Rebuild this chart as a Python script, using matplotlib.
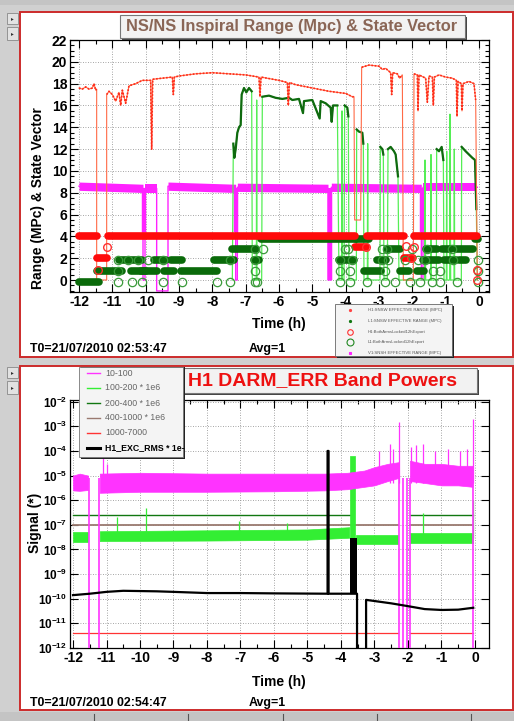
import matplotlib
matplotlib.use("Agg")
import matplotlib.pyplot as plt
import matplotlib.transforms as mtransforms
import numpy as np
from matplotlib.patches import Rectangle
from matplotlib.lines import Line2D
from matplotlib.ticker import MultipleLocator, FixedLocator, LogLocator, NullFormatter

plt.rcParams['font.family'] = ['Liberation Sans', 'DejaVu Sans']
plt.rcParams['mathtext.fontset'] = 'custom'
plt.rcParams['mathtext.bf'] = 'Liberation Sans:bold'
plt.rcParams['mathtext.rm'] = 'Liberation Sans'
plt.rcParams['axes.unicode_minus'] = False

W, H = 514, 721

# ---------------- top panel data: NS/NS range and state vector ----------------
h1_t = [-12.0, -11.9, -11.8, -11.7, -11.6, -11.55, -11.5, -11.47, -11.47, -11.17, -11.17, -11.1,
        -11.0, -10.9, -10.8, -10.75, -10.7, -10.6, -10.5, -10.3, -10.1, -9.85, -9.82, -9.79,
        -9.5, -9.2, -9.17, -9.14, -9.0, -8.5, -8.0, -7.5, -7.0, -6.6, -6.57, -6.54, -6.0,
        -5.75, -5.72, -5.69, -5.5, -5.0, -4.5, -4.0, -3.8, -3.75, -3.73, -3.55, -3.52, -3.3,
        -3.0, -2.9, -2.8, -2.65, -2.62, -2.59, -2.45, -2.38, -2.3, -2.27, -1.97, -1.95, -1.85,
        -1.83, -1.8, -1.6, -1.55, -1.5, -1.4, -1.37, -1.34, -1.2, -1.0, -0.8, -0.68, -0.66,
        -0.63, -0.53, -0.51, -0.48, -0.3, -0.15, -0.1, -0.05]
h1_v = [17.6, 17.5, 17.7, 17.5, 17.6, 18.0, 17.4, 17.5, 0.0, 0.0, 17.0, 17.3,
        17.0, 16.4, 17.2, 16.0, 17.4, 16.2, 17.8, 18.0, 18.3, 18.3, 12.0, 18.4,
        18.5, 18.6, 17.0, 18.6, 18.7, 18.9, 19.0, 18.9, 18.8, 18.6, 16.8, 18.6, 18.3,
        18.1, 16.0, 18.1, 17.9, 17.6, 17.3, 17.1, 16.8, 16.8, 5.5, 5.5, 19.5, 19.7,
        19.6, 19.3, 19.4, 19.0, 17.0, 19.0, 18.9, 18.5, 18.8, 0.0, 0.0, 18.9, 18.8,
        15.5, 18.8, 18.5, 16.3, 18.7, 18.6, 16.0, 18.6, 18.8, 18.6, 18.5, 18.3, 15.0,
        18.2, 18.0, 15.5, 18.0, 18.2, 18.0, 16.5, 0.0]

l1_t = [-7.4, -7.37, -7.34, -7.3, -7.25, -7.2, -7.15, -7.12, -7.05, -6.98, -6.9, -6.82, -6.8,
        -6.68, -6.67, -6.66, -6.52, -6.5, -6.3, -6.1, -5.9, -5.7, -5.6, -5.4, -5.28, -5.25,
        -5.0, -4.78, -4.75, -4.6, -4.45, -4.42, -4.38, -4.25, -4.2, -4.12, -4.11, -4.1, -4.05,
        -4.03, -3.95, -3.92, -3.9, -3.68, -3.67, -3.6, -3.5, -3.47, -3.45, -3.35, -3.34, -3.33,
        -2.97, -2.96, -2.9, -2.87, -2.85, -2.75, -2.73, -2.65, -2.55, -2.5, -2.43, -2.4,
        -1.63, -1.62, -1.6, -1.45, -1.44, -1.43, -1.28, -1.27, -1.2, -1.12, -1.07, -1.05,
        -0.98, -0.97, -0.96, -0.88, -0.87, -0.85, -0.75, -0.74, -0.73, -0.53, -0.52, -0.4,
        -0.3, -0.2, -0.12, -0.08, -0.05]
l1_v = [0.0, 12.5, 11.2, 12.0, 13.5, 14.0, 14.2, 17.0, 17.6, 17.2, 17.6, 17.3, 0.0,
        0.0, 16.5, 0.0, 0.0, 16.8, 16.9, 16.7, 16.6, 16.7, 16.5, 16.6, 15.3, 16.4,
        16.5, 14.8, 16.4, 16.2, 15.8, 14.5, 16.0, 16.0, 0.0, 0.0, 15.5, 0.0, 0.0,
        16.0, 15.8, 15.0, 0.0, 0.0, 13.8, 13.6, 13.5, 12.5, 0.0, 0.0, 12.5, 0.0,
        0.0, 12.2, 12.0, 11.5, 0.0, 0.0, 12.0, 12.2, 11.8, 11.5, 9.5, 0.0,
        0.0, 11.0, 0.0, 0.0, 11.5, 0.0, 0.0, 12.0, 11.8, 12.2, 11.0, 0.0,
        0.0, 11.8, 0.0, 0.0, 15.2, 0.0, 0.0, 12.0, 0.0, 0.0, 12.2, 11.8,
        11.5, 11.2, 11.0, 6.5, 0.0]

v1_t = [-12.0, -10.08, -10.08, -10.02, -10.02, -9.67, -9.67, -9.33, -9.33, -7.3, -7.3, -7.25,
        -7.25, -4.53, -4.53, -4.43, -4.43, -1.73, -1.73, -1.68, -1.68, -0.05]
v1_v = [8.6, 8.4, 0.0, 0.0, 8.4, 8.4, -1.0, -1.0, 8.6, 8.4, 0.0, 0.0,
        8.5, 8.4, 0.0, 0.0, 8.5, 8.4, 0.0, 0.0, 8.5, 8.5]
v1_dip_t = [-10.05, -7.28, -4.48, -1.71]
v1_dip_lo = [4.4, 4.4, 0.0, 4.4]

h1_state_t0 = [-12.0, -11.47, -11.12, -3.72, -3.35, -2.25, -1.95]
h1_state_t1 = [-11.47, -11.17, -3.72, -3.4, -2.25, -1.97, -0.05]
h1_state_v = [4, 2, 4, 3, 4, 2, 4]

l1_state_t0 = [-12.0, -11.45, -10.8, -10.45, -10.15, -9.75, -9.45, -9.25, -8.95, -7.95, -7.4,
               -6.75, -6.55, -4.2, -3.7, -3.45, -3.05, -2.77, -2.37, -1.85, -1.67, -1.58,
               -1.1, -1.05, -0.68, -0.6, -0.12]
l1_state_t1 = [-11.4, -10.7, -10.1, -10.0, -9.65, -9.4, -9.15, -8.9, -7.85, -7.35, -6.7,
               -6.6, -3.7, -3.75, -3.3, -2.95, -2.8, -2.37, -2.1, -1.65, -1.2, -1.27,
               -0.85, -0.7, -0.17, -0.4, -0.03]
l1_state_v = [-0.2, 0.8, 1.8, 0.8, 0.8, 1.8, 0.8, 1.8, 0.8, 1.8, 2.8,
              1.8, 3.8, 1.8, 3.8, 0.8, 1.8, 2.8, 0.8, 0.8, 1.8, 2.8,
              2.8, 1.8, 2.8, 1.8, 3.8]

h1_lock_t = [-11.43, -11.15, -3.4, -2.2, -2.05, -1.95, -0.05, -0.05]
h1_lock_v = [0.9, 3.0, 3.0, 3.1, 2.0, 3.0, 0.9, 0.0]

l1_lock_t = [-10.82, -10.42, -10.12, -9.47, -8.92, -7.87, -7.47, -6.72, -6.67, -4.17, -3.87,
             -3.37, -2.82, -2.52, -2.07, -1.77, -1.42, -1.17, -0.67, -0.02,
             -4.17, -3.87, -2.82, -1.37, -1.17, -0.02, -10.82, -6.72,
             -10.82, -10.52, -10.22, -9.92, -9.47, -7.47, -6.72, -4.17, -3.82, -2.92, -2.72,
             -2.22, -1.82, -1.62, -0.77, -0.02,
             -6.72, -6.47, -4.02, -3.92, -2.92, -2.77, -2.02, -1.57, -0.82]
l1_lock_v = [-0.2] * 20 + [0.8] * 8 + [1.8] * 16 + [2.8] * 9

top_legend = ["H1:SNSW EFFECTIVE RANGE (MPC)", "L1:SNSW EFFECTIVE RANGE (MPC)",
              "H1:BothArmsLocked12hExport", "L1:BothArmsLocked12hExport",
              "V1:SNSH EFFECTIVE RANGE (MPC)"]

# ---------------- bottom panel data: H1 DARM_ERR band powers ----------------
b10_segs = [([-12.0, -11.8, -11.55], [2.5e-6, 2.4e-6, 2.6e-6], [1.0e-5, 1.2e-5, 1.0e-5]),
            ([-11.2, -10.0, -8.0, -6.0, -4.5, -3.8, -3.3, -3.0, -2.6, -2.28],
             [2.0e-6, 2.2e-6, 2.2e-6, 2.3e-6, 2.5e-6, 2.8e-6, 3.5e-6, 4.0e-6, 6.0e-6, 8.0e-6],
             [1.2e-5, 1.3e-5, 1.2e-5, 1.2e-5, 1.2e-5, 1.3e-5, 1.6e-5, 2.2e-5, 3.0e-5, 3.5e-5]),
            ([-1.94, -1.5, -1.0, -0.5, -0.07],
             [6.0e-6, 5.0e-6, 4.0e-6, 4.0e-6, 3.5e-6],
             [4.0e-5, 3.0e-5, 3.0e-5, 2.5e-5, 2.5e-5])]
b10_spike_t = [-11.1, -11.0, -2.85, -2.55, -2.45, -2.28, -1.9, -1.75, -1.55, -1.2, -0.8, -0.45, -0.25, -0.06]
b10_spike_v = [1e-4, 3e-5, 1e-4, 2e-4, 1.2e-4, 1.5e-3, 1.5e-4, 1.7e-4, 2e-4, 1e-4, 1.2e-4, 1e-4, 1.2e-4, 2e-3]
b10_drop_t = [-11.52, -11.22, -2.27, -2.15, -2.03, -1.94, -0.06]

b100_segs = [([-12.0, -11.55], [2.0e-8, 2.0e-8], [5.0e-8, 5.0e-8]),
             ([-11.2, -8.0, -5.0, -3.75], [2.2e-8, 2.3e-8, 2.5e-8, 3.0e-8], [5.5e-8, 6.0e-8, 6.5e-8, 8.0e-8]),
             ([-3.72, -3.58], [3.0e-8, 3.0e-8], [6.5e-5, 6.5e-5]),
             ([-3.55, -2.3], [1.7e-8, 1.7e-8], [4.0e-8, 4.0e-8]),
             ([-1.94, -0.07], [1.8e-8, 1.8e-8], [4.5e-8, 4.5e-8])]
b100_spike_t = [-10.7, -9.82, -7.05, -5.6, -1.55, -0.06]
b100_spike_v = [2e-7, 5e-7, 1.5e-7, 1.2e-7, 3e-7, 1e-6]

b200_segs = [([-12.0, -3.68], 2.6e-7), ([-1.94, -0.06], 2.6e-7)]
b400_segs = [([-12.0, -2.3], 1.0e-7), ([-1.94, -0.06], 1.0e-7)]
b1000_segs = [([-12.0, -2.3], 4.0e-12), ([-1.94, -0.06], 4.0e-12)]

exc_t = [-12.0, -11.5, -11.0, -10.5, -9.5, -9.0, -8.0, -7.0, -6.0, -4.4, -4.4, -4.37, -4.37,
         -3.52, -3.52, -3.25, -3.25, -2.5, -2.0, -1.5, -1.0, -0.5, -0.05]
exc_v = [1.4e-10, 1.6e-10, 1.9e-10, 2.1e-10, 2.0e-10, 1.9e-10, 1.7e-10, 1.7e-10, 1.65e-10, 1.6e-10,
         1.0e-4, 1.0e-4, 1.6e-10, 1.6e-10, 1e-13, 1e-13, 9.0e-11, 6.5e-11, 5.0e-11, 3.8e-11,
         3.5e-11, 3.6e-11, 4.3e-11]
exc_block_t = [-3.72, -3.52]
exc_block_v = [1.6e-10, 3.0e-8]

bottom_legend = ["10-100", "100-200 * 1e6", "200-400 * 1e6", "400-1000 * 1e6", "1000-7000",
                 "H1_EXC_RMS * 1e-"]
bottom_colors = ['#ff33ff', '#33ee33', '#117711', '#9a7a70', '#ff3333', 'black']

# ---------------- helpers ----------------
fig = plt.figure(figsize=(W / 100, H / 100), dpi=100)
fig.patch.set_facecolor('#d0d0d0')


def box(x0, y0, x1, y1, z=5, shift=None, **kw):
    tr = fig.transFigure
    if shift:
        tr = tr + mtransforms.Affine2D().translate(*shift)
    r = Rectangle((x0 / W, 1 - y1 / H), (x1 - x0) / W, (y1 - y0) / H,
                  transform=tr, zorder=z, **kw)
    fig.add_artist(r)
    return r


def ftext(x, y, s, z=6, **kw):
    fig.text(x / W, 1 - y / H, s, zorder=z, **kw)


def axes_px(x0, y0, x1, y1):
    return fig.add_axes([x0 / W, 1 - y1 / H, (x1 - x0) / W, (y1 - y0) / H])


def style_axes(ax, ysize=10):
    ax.tick_params(which='both', direction='in', top=True, right=True, width=0.8,
                   labelsize=10, pad=2, colors='black')
    ax.tick_params(axis='y', labelsize=ysize)
    ax.tick_params(which='major', length=6)
    ax.tick_params(which='minor', length=3)
    for lab in ax.get_xticklabels() + ax.get_yticklabels():
        lab.set_fontweight('bold')
    for sp in ax.spines.values():
        sp.set_linewidth(0.9)
    ax.grid(True, which='major', ls=(0, (1, 2)), color='#888888', lw=0.6)
    ax.set_axisbelow(True)


# strips and panels
box(0, 0, W, 5, z=-5, facecolor='#c4c4c4', edgecolor='none')
box(0, 712, W, H, z=-5, facecolor='#c4c4c4', edgecolor='none')
for xs in [94, 188, 283, 377, 471]:
    fig.add_artist(Line2D([xs / W, xs / W], [1 - 714 / H, 0], transform=fig.transFigure,
                          color='#555555', lw=0.8, zorder=-4))
for (y0, y1) in [(13, 24), (27, 40), (367, 378), (381, 394)]:
    box(7, y0, 18, y1, z=-4, facecolor='#e2e2e2', edgecolor='#888888', lw=0.6)
    ftext(12.5, (y0 + y1) / 2, '▸', z=-3, fontsize=4, ha='center', va='center', color='#333333',
          family=['DejaVu Sans'])

box(20, 12, 513, 357, z=-5, facecolor='white', edgecolor='#cc2b2b', lw=1.4)
box(20, 366, 513, 710, z=-5, facecolor='white', edgecolor='#cc2b2b', lw=1.4)

# ---------------- top axes ----------------
ax1 = axes_px(70, 40, 489, 292)
ax1.set_xlim(-12.27, 0.3)
ax1.set_ylim(-1.1, 22)

ax1.plot(v1_t, v1_v, color='#ff22ff', lw=1.0, zorder=2)
for k in range(len(v1_t) - 1):
    if v1_v[k] > 5 and v1_v[k + 1] > 5 and v1_t[k + 1] > v1_t[k]:
        ax1.fill_between([v1_t[k], v1_t[k + 1]], [v1_v[k] - 0.38, v1_v[k + 1] - 0.38],
                         [v1_v[k] + 0.38, v1_v[k + 1] + 0.38], color='#ff22ff', lw=0, zorder=2)
ax1.vlines(v1_dip_t, v1_dip_lo, 8.4, color='#ff22ff', lw=3.2, zorder=2)

ax1.plot(l1_t, l1_v, color='#55ee55', lw=0.9, zorder=3)
l1_dark = np.where(np.array(l1_v) > 5, l1_v, np.nan)
ax1.plot(l1_t, l1_dark, color='#0f6a0f', lw=1.6, zorder=3)

ax1.plot(h1_t, h1_v, color='#ff6a46', lw=0.8, zorder=3)
h1_dark = np.where(np.array(h1_v) > 10, h1_v, np.nan)
ax1.plot(h1_t, h1_dark, color='#ff2a1a', lw=1.2, ls=(0, (1, 1)), zorder=3)

lc = ax1.hlines(l1_state_v, l1_state_t0, l1_state_t1, color='#0a6a0a', lw=5.5, zorder=4)
lc.set_capstyle('round')
rc = ax1.hlines(h1_state_v, h1_state_t0, h1_state_t1, color='#ff0a0a', lw=5.5, zorder=5)
rc.set_capstyle('round')
ax1.plot(l1_lock_t, l1_lock_v, 'o', ms=6, mfc='none', mec='#3a9a3a', mew=0.9, zorder=6)
ax1.plot(h1_lock_t, h1_lock_v, 'o', ms=5.5, mfc='none', mec='#ff3030', mew=1.0, zorder=6)

ax1.xaxis.set_major_locator(MultipleLocator(1))
ax1.xaxis.set_minor_locator(MultipleLocator(0.5))
ax1.yaxis.set_major_locator(MultipleLocator(2))
ax1.yaxis.set_minor_locator(MultipleLocator(0.5))
style_axes(ax1)

box(120, 15, 465, 38, shift=(2, -2), facecolor='#444444', edgecolor='none')
box(120, 15, 465, 38, facecolor='#f2f2f2', edgecolor='#777777', lw=0.8)
ftext(292, 27, 'NS/NS Inspiral Range (Mpc) & State Vector', fontsize=11.8, fontweight='bold',
      color='#8a6656', ha='center', va='center')

ftext(38, 198, 'Range (MPc) & State Vector', rotation=90, fontsize=10, fontweight='bold',
      ha='center', va='center')
ftext(279, 324, 'Time (h)', fontsize=10, fontweight='bold', ha='center', va='center')
ftext(30, 349, 'T0=21/07/2010 02:53:47', fontsize=8.9, fontweight='bold', ha='left', va='center')
ftext(249, 349, 'Avg=1', fontsize=8.9, fontweight='bold', ha='left', va='center')

# top legend
box(337, 306, 454, 358, facecolor='#222222', edgecolor='none')
box(335, 304, 452, 356, facecolor='#f4f4f4', edgecolor='#666666', lw=0.6)
leg_marks = [('.', '#ff4444', 3, '#ff4444'), ('.', '#117711', 3, '#117711'),
             ('o', 'none', 4, '#ff3030'), ('o', 'none', 5, '#228822'), ('s', '#ff22ff', 1.5, '#ff22ff')]
for i, (lab, (mk, mfc, ms, mec)) in enumerate(zip(top_legend, leg_marks)):
    yy = 310 + i * 10.8
    fig.add_artist(Line2D([350 / W], [1 - yy / H], transform=fig.transFigure, marker=mk,
                          ms=ms, mfc=mfc, mec=mec, mew=0.8, ls='none', zorder=6))
    ftext(368, yy, lab, fontsize=3.1, color='#555555', ha='left', va='center')

# ---------------- bottom axes ----------------
ax2 = axes_px(70, 400, 489, 648)
ax2.set_yscale('log')
ax2.set_xlim(-12.09, 0.42)
ax2.set_ylim(1e-12, 1.17e-2)

for ts, vv in b1000_segs:
    ax2.plot(ts, [vv, vv], color='#ff3333', lw=0.9, zorder=2)
for ts, vv in b400_segs:
    ax2.plot(ts, [vv, vv], color='#9a7a70', lw=1.3, zorder=2)
for ts, vv in b200_segs:
    ax2.plot(ts, [vv, vv], color='#117711', lw=1.0, zorder=2)
for ts, lo, hi in b100_segs:
    ax2.fill_between(ts, lo, hi, color='#33ee33', lw=0.5, zorder=3)
ax2.vlines(b100_spike_t, 3e-8, b100_spike_v, color='#33ee33', lw=0.9, zorder=3)
for ts, lo, hi in b10_segs:
    ax2.fill_between(ts, lo, hi, color='#ff33ff', lw=0.5, zorder=3)
ax2.vlines(b10_spike_t, 5e-6, b10_spike_v, color='#ff33ff', lw=0.9, zorder=3)
ax2.vlines(b10_drop_t, 1e-12, 8e-6, color='#ff33ff', lw=1.2, zorder=3)

ax2.plot(exc_t, exc_v, color='black', lw=1.6, zorder=4)
ax2.fill_between(exc_block_t, exc_block_v[0], exc_block_v[1], color='black', lw=0, zorder=4)

ax2.xaxis.set_major_locator(MultipleLocator(1))
ax2.xaxis.set_minor_locator(MultipleLocator(0.5))
dec = list(range(-12, -1))
ax2.yaxis.set_major_locator(FixedLocator([10.0 ** k for k in dec]))
ax2.set_yticklabels([r'$\mathbf{10^{%d}}$' % k for k in dec])
ax2.yaxis.set_minor_locator(LogLocator(base=10, subs=np.arange(2, 10)))
ax2.yaxis.set_minor_formatter(NullFormatter())
style_axes(ax2, ysize=8.5)

box(170, 368, 477, 393, shift=(2, -2), facecolor='#444444', edgecolor='none')
box(170, 368, 477, 393, facecolor='#f2f2f2', edgecolor='#777777', lw=0.8)
ftext(323, 381, 'H1 DARM_ERR Band Powers', fontsize=14, fontweight='bold',
      color='#ee1111', ha='center', va='center')

ftext(35, 523, 'Signal (*)', rotation=90, fontsize=10, fontweight='bold',
      ha='center', va='center')
ftext(279, 682, 'Time (h)', fontsize=10, fontweight='bold', ha='center', va='center')
ftext(30, 703, 'T0=21/07/2010 02:54:47', fontsize=8.9, fontweight='bold', ha='left', va='center')
ftext(249, 703, 'Avg=1', fontsize=8.9, fontweight='bold', ha='left', va='center')

# bottom legend
box(81, 367, 185, 459, facecolor='#222222', edgecolor='none')
box(79, 367, 183, 457, facecolor='#f4f4f4', edgecolor='#777777', lw=0.6)
for i, (lab, col) in enumerate(zip(bottom_legend, bottom_colors)):
    yy = 373 + i * 15
    last = i == len(bottom_legend) - 1
    fig.add_artist(Line2D([87 / W, 100 / W], [1 - yy / H, 1 - yy / H], transform=fig.transFigure,
                          color=col, lw=2.2 if last else 1.0, zorder=6))
    ftext(105, yy, lab, fontsize=6.3, color='black' if last else '#666666', ha='left', va='center',
          fontweight='bold' if last else 'normal')

fig.savefig('out.png', dpi=100, facecolor=fig.get_facecolor())
